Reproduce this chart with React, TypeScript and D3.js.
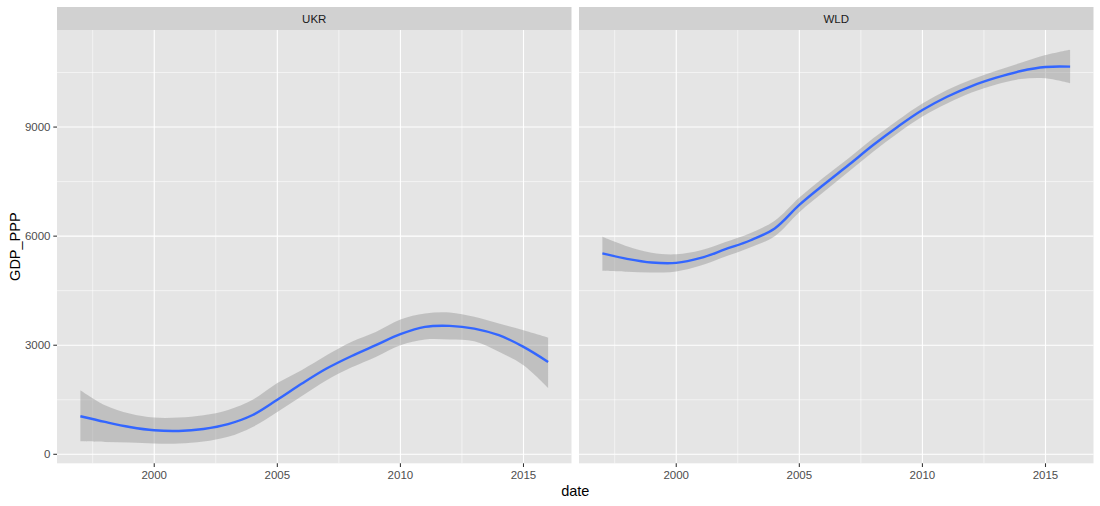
import React from 'react';
import * as d3 from 'd3';

// smoothed GDP_PPP (loess fit with 95% band)
const years = [1997, 1998, 1999, 2000, 2001, 2002, 2003, 2004, 2005, 2006, 2007, 2008, 2009, 2010, 2011, 2012, 2013, 2014, 2015, 2016];

const ukrFit = [1046, 890, 752, 660, 642, 697, 830, 1080, 1500, 1945, 2358, 2697, 3000, 3303, 3504, 3532, 3458, 3275, 2955, 2541];
const ukrLo = [358, 340, 322, 294, 294, 349, 480, 752, 1165, 1600, 2037, 2385, 2679, 3000, 3156, 3156, 3110, 2817, 2450, 1825];
const ukrHi = [1762, 1349, 1120, 1010, 1010, 1073, 1220, 1500, 1960, 2320, 2725, 3091, 3366, 3707, 3872, 3900, 3780, 3597, 3413, 3211];

const wldFit = [5524, 5376, 5276, 5266, 5400, 5640, 5880, 6212, 6860, 7420, 7955, 8505, 9010, 9468, 9835, 10129, 10358, 10542, 10652, 10661];
const wldLo = [5045, 5018, 5001, 5030, 5190, 5440, 5690, 6000, 6660, 7220, 7770, 8320, 8830, 9290, 9650, 9950, 10170, 10320, 10341, 10203];
const wldHi = [5981, 5720, 5540, 5500, 5610, 5840, 6080, 6420, 7060, 7620, 8140, 8690, 9190, 9650, 10020, 10310, 10550, 10770, 10982, 11128];

const facets = ['UKR', 'WLD'];
const yTicks = [0, 3000, 6000, 9000];
const yMinor = [1500, 4500, 7500, 10500];
const xTicks = [2000, 2005, 2010, 2015];
const xMinor = [1997.5, 2002.5, 2007.5, 2012.5];

const W = 1100;
const H = 506;
const panelTop = 30;
const panelBottom = 463.3;
const stripTop = 7;
const panelX = [[57, 571.5], [579, 1093.5]];
const font = 'Liberation Sans, Arial, Helvetica, sans-serif';

const series = [
  { fit: ukrFit, lo: ukrLo, hi: ukrHi },
  { fit: wldFit, lo: wldLo, hi: wldHi },
];

export default function App() {
  const allLo = d3.min([...ukrLo, ...wldLo]) as number;
  const allHi = d3.max([...ukrHi, ...wldHi]) as number;
  const yPad = (allHi - allLo) * 0.05;
  const y = d3.scaleLinear().domain([allLo - yPad, allHi + yPad]).range([panelBottom, panelTop]);

  const xMin = d3.min(years) as number;
  const xMax = d3.max(years) as number;
  const xPad = (xMax - xMin) * 0.05;

  return (
    <svg width={W} height={H} style={{ position: 'absolute', left: 0, top: 0, background: '#fff' }} fontFamily={font}>
      {facets.map((name, i) => {
        const [x0, x1] = panelX[i];
        const x = d3.scaleLinear().domain([xMin - xPad, xMax + xPad]).range([x0, x1]);
        const s = series[i];
        const area = d3
          .area<number>()
          .x((_, j) => x(years[j]))
          .y0((_, j) => y(s.lo[j]))
          .y1((_, j) => y(s.hi[j]))
          .curve(d3.curveCatmullRom);
        const line = d3
          .line<number>()
          .x((_, j) => x(years[j]))
          .y((d) => y(d))
          .curve(d3.curveCatmullRom);
        return (
          <g key={name}>
            <rect x={x0} y={panelTop} width={x1 - x0} height={panelBottom - panelTop} fill="#E5E5E5" />
            {xMinor.map((t) => (
              <line key={'xm' + t} x1={x(t)} x2={x(t)} y1={panelTop} y2={panelBottom} stroke="#fff" strokeWidth={0.55} />
            ))}
            {yMinor.map((t) => (
              <line key={'ym' + t} x1={x0} x2={x1} y1={y(t)} y2={y(t)} stroke="#fff" strokeWidth={0.55} />
            ))}
            {xTicks.map((t) => (
              <line key={'x' + t} x1={x(t)} x2={x(t)} y1={panelTop} y2={panelBottom} stroke="#fff" strokeWidth={1.1} />
            ))}
            {yTicks.map((t) => (
              <line key={'y' + t} x1={x0} x2={x1} y1={y(t)} y2={y(t)} stroke="#fff" strokeWidth={1.1} />
            ))}
            <path d={area(s.fit) || ''} fill="#999999" fillOpacity={0.48} />
            <path d={line(s.fit) || ''} fill="none" stroke="#3366FF" strokeWidth={2.4} />
            <rect x={x0} y={stripTop} width={x1 - x0} height={panelTop - stripTop} fill="#D1D1D1" />
            <text x={(x0 + x1) / 2} y={(stripTop + panelTop) / 2 + 4} textAnchor="middle" fontSize={11.5} fill="#1A1A1A">
              {name}
            </text>
            {xTicks.map((t) => (
              <g key={'xl' + t}>
                <line x1={x(t)} x2={x(t)} y1={panelBottom} y2={panelBottom + 3.7} stroke="#333333" strokeWidth={1.07} />
                <text x={x(t)} y={panelBottom + 15.5} textAnchor="middle" fontSize={11.5} fill="#4D4D4D">
                  {t}
                </text>
              </g>
            ))}
          </g>
        );
      })}
      {yTicks.map((t) => (
        <g key={'yl' + t}>
          <line x1={panelX[0][0] - 3.7} x2={panelX[0][0]} y1={y(t)} y2={y(t)} stroke="#333333" strokeWidth={1.07} />
          <text x={panelX[0][0] - 6.5} y={y(t) + 4} textAnchor="end" fontSize={11.5} fill="#4D4D4D">
            {t}
          </text>
        </g>
      ))}
      <text x={(panelX[0][0] + panelX[1][1]) / 2} y={496} textAnchor="middle" fontSize={14.5} fill="#000">
        date
      </text>
      <text
        transform={`translate(20,${(panelTop + panelBottom) / 2}) rotate(-90)`}
        textAnchor="middle"
        fontSize={14.5}
        fill="#000"
      >
        GDP_PPP
      </text>
    </svg>
  );
}
